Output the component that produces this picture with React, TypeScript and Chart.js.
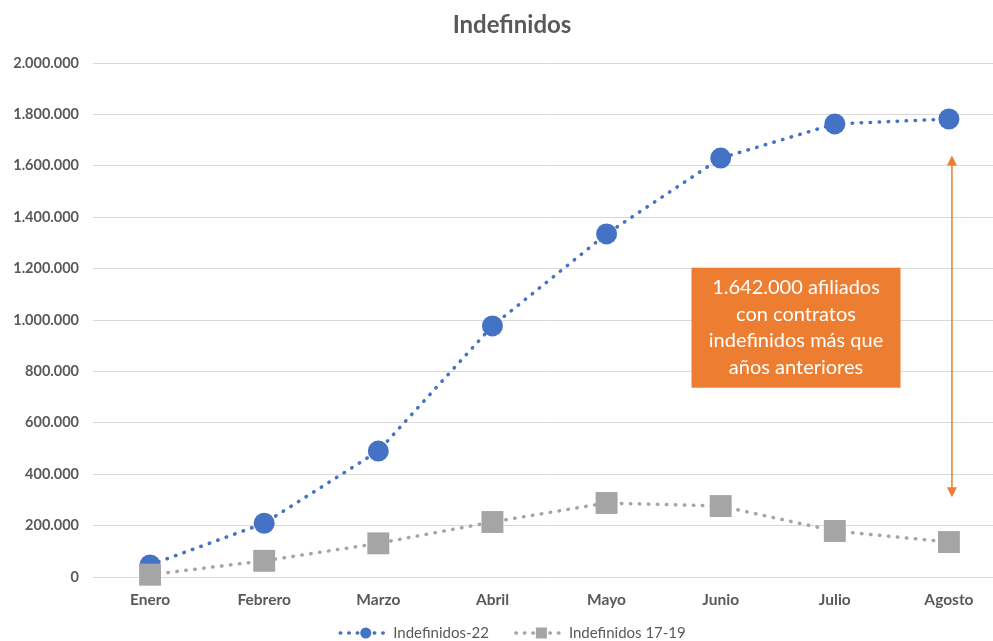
import { useEffect, useRef } from "react";
import { Chart, registerables } from "chart.js";

Chart.register(...registerables);

const categories = ["Enero", "Febrero", "Marzo", "Abril", "Mayo", "Junio", "Julio", "Agosto"];
const seriesNames = ["Indefinidos-22", "Indefinidos 17-19"];
const indefinidos22 = [47000, 209000, 490000, 977000, 1335000, 1630000, 1763000, 1782000];
const indefinidos1719 = [9000, 63000, 131000, 214000, 288000, 276000, 179000, 136000];
const yTickValues = [0, 200000, 400000, 600000, 800000, 1000000, 1200000, 1400000, 1600000, 1800000, 2000000];
const chartTitle = "Indefinidos";
const annotationLines = ["1.642.000 afiliados", "con contratos", "indefinidos más que", "años anteriores"];
const arrowFromTo = [1640000, 310000];

const BLUE = "#4472C4";
const GRAY = "#A5A5A5";
const ORANGE = "#ED7D31";
const TEXT = "#595959";
const FONT = "Lato, 'Open Sans', sans-serif";

const fmt = (v: number) => String(Math.round(v)).replace(/\B(?=(\d{3})+(?!\d))/g, ".");

const overlayPlugin = {
  id: "overlay",
  afterDraw(chart: any) {
    const ctx = chart.ctx;
    const xs = chart.scales.x;
    const ys = chart.scales.y;
    const W = chart.width;
    ctx.save();
    // title
    ctx.fillStyle = TEXT;
    ctx.font = `bold 24px ${FONT}`;
    ctx.textAlign = "center";
    ctx.textBaseline = "middle";
    ctx.fillText(chartTitle, W / 2, 25);

    // arrow
    const ax = xs.getPixelForValue(categories.length - 1) + 3;
    const y1 = ys.getPixelForValue(arrowFromTo[0]);
    const y2 = ys.getPixelForValue(arrowFromTo[1]);
    ctx.strokeStyle = ORANGE;
    ctx.fillStyle = ORANGE;
    ctx.lineWidth = 1.5;
    ctx.beginPath();
    ctx.moveTo(ax, y1 + 8);
    ctx.lineTo(ax, y2 - 8);
    ctx.stroke();
    ctx.beginPath();
    ctx.moveTo(ax, y1);
    ctx.lineTo(ax - 5, y1 + 10);
    ctx.lineTo(ax + 5, y1 + 10);
    ctx.closePath();
    ctx.fill();
    ctx.beginPath();
    ctx.moveTo(ax, y2);
    ctx.lineTo(ax - 5, y2 - 10);
    ctx.lineTo(ax + 5, y2 - 10);
    ctx.closePath();
    ctx.fill();

    // annotation box
    const p5 = xs.getPixelForValue(5);
    const p6 = xs.getPixelForValue(6);
    const cx = p5 + 0.66 * (p6 - p5);
    const cy = ys.getPixelForValue(970000);
    const bw = 209;
    const bh = 120;
    ctx.fillStyle = ORANGE;
    ctx.fillRect(cx - bw / 2, cy - bh / 2, bw, bh);
    ctx.fillStyle = "#FFFFFF";
    ctx.font = `20px ${FONT}`;
    ctx.textAlign = "center";
    ctx.textBaseline = "middle";
    const lh = 26.5;
    annotationLines.forEach((t, i) => {
      ctx.fillText(t, cx, cy + (i - (annotationLines.length - 1) / 2) * lh);
    });

    // legend
    ctx.font = `15px ${FONT}`;
    const sample = 55;
    const gap = 25;
    const items = chart.data.datasets.map((d: any) => ({
      label: d.label,
      color: d.borderColor,
      style: d.pointStyle,
      w: sample + ctx.measureText(d.label).width,
    }));
    const ordered = [items[0], items[1]];
    const total = ordered.reduce((s: number, it: any) => s + it.w, 0) + gap * (ordered.length - 1);
    let lx = W / 2 - total / 2;
    const ly = 633;
    ordered.forEach((it: any) => {
      ctx.strokeStyle = it.color;
      ctx.fillStyle = it.color;
      ctx.lineWidth = 3.5;
      ctx.lineCap = "round";
      ctx.setLineDash([0.5, 8]);
      ctx.beginPath();
      ctx.moveTo(lx + 2, ly);
      ctx.lineTo(lx + sample - 3, ly);
      ctx.stroke();
      ctx.setLineDash([]);
      const mx = lx + sample / 2;
      if (it.style === "rect") {
        ctx.fillRect(mx - 5.5, ly - 5.5, 11, 11);
      } else {
        ctx.beginPath();
        ctx.arc(mx, ly, 5.5, 0, Math.PI * 2);
        ctx.fill();
      }
      ctx.fillStyle = TEXT;
      ctx.textAlign = "left";
      ctx.fillText(it.label, lx + sample, ly);
      lx += it.w + gap;
    });
    ctx.restore();
  },
};

export default function App() {
  const ref = useRef<HTMLCanvasElement | null>(null);
  useEffect(() => {
    const canvas = ref.current;
    if (!canvas) return;
    const chart = new Chart(canvas, {
      type: "line",
      data: {
        labels: categories,
        datasets: [
          {
            label: seriesNames[0],
            data: indefinidos22,
            borderColor: BLUE,
            backgroundColor: BLUE,
            borderWidth: 3.5,
            borderDash: [0.5, 8.5],
            borderCapStyle: "round",
            pointStyle: "circle",
            pointRadius: 10.5,
            pointHoverRadius: 10.5,
            pointBorderWidth: 0,
            tension: 0,
            order: 1,
            clip: false as any,
          },
          {
            label: seriesNames[1],
            data: indefinidos1719,
            borderColor: GRAY,
            backgroundColor: GRAY,
            borderWidth: 3.5,
            borderDash: [0.5, 8.5],
            borderCapStyle: "round",
            pointStyle: "rect",
            pointRadius: 15.5,
            pointHoverRadius: 15.5,
            pointBorderWidth: 0,
            tension: 0,
            order: 0,
            clip: false as any,
          },
        ],
      },
      options: {
        animation: false,
        responsive: false,
        maintainAspectRatio: false,
        events: [],
        layout: { padding: { top: 63, right: 18, left: 0, bottom: 0 } },
        plugins: {
          legend: { display: false },
          title: { display: false },
          tooltip: { enabled: false },
        },
        scales: {
          x: {
            offset: true,
            grid: { display: false, drawTicks: false },
            border: { display: false },
            ticks: {
              color: TEXT,
              padding: 14,
              font: { family: FONT, size: 15.5, weight: "bold" },
              maxRotation: 0,
            },
            afterFit: (s: any) => {
              s.height = 64;
            },
          },
          y: {
            min: 0,
            max: 2000000,
            afterBuildTicks: (s: any) => {
              s.ticks = yTickValues.map((v) => ({ value: v }));
            },
            grid: { color: "#D9D9D9", lineWidth: 1, drawTicks: false },
            border: { display: false },
            ticks: {
              color: TEXT,
              padding: 14,
              font: { family: FONT, size: 14.5, weight: "bold" },
              callback: (v: any) => fmt(Number(v)),
            },
            afterFit: (s: any) => {
              s.width = 93;
            },
          },
        },
      },
      plugins: [overlayPlugin],
    });
    return () => chart.destroy();
  }, []);
  return (
    <div
      style={{
        position: "fixed",
        left: 0,
        top: 0,
        width: 993,
        height: 641,
        overflow: "hidden",
        background: "#FFFFFF",
      }}
    >
      <canvas ref={ref} width={1024} height={641} style={{ width: 1024, height: 641, display: "block" }} />
    </div>
  );
}
